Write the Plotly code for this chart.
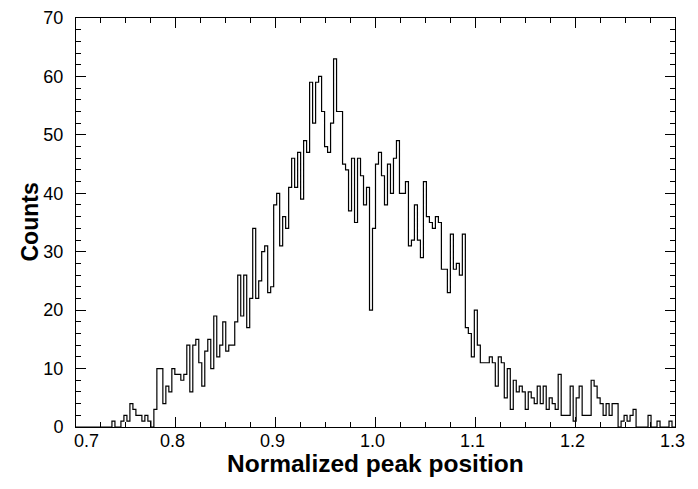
import plotly.graph_objects as go

# Histogram: bins of width 0.003 starting at 0.7
bin_start = 0.7
bin_width = 0.003
counts = [
    0, 0, 0, 0, 0, 0, 0, 0, 0, 0, 0, 0,
    1, 0, 0, 1, 2, 1, 4, 3, 2, 2, 1, 2, 1, 0, 3, 10, 10, 4, 7, 6, 10, 9, 9, 8, 9,
    14, 6, 14, 15, 11, 7, 13, 15, 10, 19, 12, 14, 18, 13, 14, 14, 18, 26, 19, 26, 17, 22,
    34, 22, 25, 30, 31, 23, 24, 38, 40, 31, 36, 34, 41, 46, 41, 47, 39, 49, 47,
    59, 52, 59, 60, 54, 48, 47, 52, 63, 54, 54, 45, 44, 37, 46, 35, 46, 43, 38, 41,
    20, 34, 45, 47, 43, 38, 45, 40, 46, 49, 40, 40, 42, 31, 32, 38, 32, 29, 42, 36,
    35, 34, 36, 35, 27, 27, 23, 33, 27, 28, 26, 33, 17, 16, 12, 20, 14,
    11, 11, 11, 12, 11, 7, 12, 11, 5, 10, 3, 8, 6, 7, 6, 3, 6, 5, 4, 7, 4, 7, 3, 5,
    4, 3, 9, 2, 2, 2, 7, 1, 5, 7, 2, 2, 2, 8, 7, 5, 4, 2, 4, 2, 4, 4, 0, 1, 2, 1, 2, 3,
    0, 0, 0, 0, 2, 0, 0, 1, 0, 0, 0, 1, 0,
]

x_ticks = [0.7, 0.8, 0.9, 1.0, 1.1, 1.2, 1.3]
x_tick_labels = ["0.7", "0.8", "0.9", "1.0", "1.1", "1.2", "1.3"]
y_ticks = [0, 10, 20, 30, 40, 50, 60, 70]
x_title = "Normalized peak position"
y_title = "Counts"

edges = [bin_start + i * bin_width for i in range(len(counts) + 1)]
ys = counts + [counts[-1]]

fig = go.Figure()
fig.add_trace(go.Scatter(
    x=edges, y=ys, mode="lines", line_shape="hv",
    line=dict(color="black", width=1.2), showlegend=False, hoverinfo="skip",
))

font_family = "Liberation Sans, Arial, Helvetica, sans-serif"

# x tick labels as annotations (the first one is nudged right, as in the reference)
annotations = []
for v, t in zip(x_ticks, x_tick_labels):
    annotations.append(dict(
        x=v, y=0, xref="x", yref="paper", text=t, showarrow=False,
        xanchor="center", yanchor="middle", yshift=-14,
        xshift=(10 if v == x_ticks[0] else -3),
        font=dict(size=18, family=font_family, color="black"),
    ))
annotations.append(dict(
    x=0.5, y=0, xref="paper", yref="paper", text=f"<b>{x_title}</b>",
    showarrow=False, xanchor="center", yanchor="middle", yshift=-36,
    font=dict(size=24.5, family=font_family, color="black"),
))
annotations.append(dict(
    x=0, y=0.5, xref="paper", yref="paper", text=f"<b>{y_title}</b>",
    showarrow=False, xanchor="center", yanchor="middle", xshift=-47, textangle=-90,
    font=dict(size=23, family=font_family, color="black"),
))

fig.update_layout(
    width=690, height=481,
    margin=dict(l=68, r=23, t=10, b=62),
    paper_bgcolor="white", plot_bgcolor="white",
    font=dict(family=font_family, color="black", size=18),
    annotations=annotations,
    xaxis=dict(
        range=[0.7, 1.3], tickvals=x_ticks, showticklabels=False,
        ticks="inside", ticklen=10, tickwidth=1, tickcolor="black",
        minor=dict(dtick=0.025, ticks="inside", ticklen=5, tickcolor="black", tickwidth=1),
        showline=True, linecolor="black", linewidth=1, mirror="allticks",
        showgrid=False, zeroline=False, automargin=False,
    ),
    yaxis=dict(
        range=[0, 70], tickvals=y_ticks,
        ticks="inside", ticklen=10, tickwidth=1, tickcolor="black",
        minor=dict(dtick=2, ticks="inside", ticklen=5, tickcolor="black", tickwidth=1),
        showline=True, linecolor="black", linewidth=1, mirror="allticks",
        showgrid=False, zeroline=False, automargin=False,
        tickfont=dict(size=18), ticklabelstandoff=8,
    ),
)

fig.write_html("out.html")
